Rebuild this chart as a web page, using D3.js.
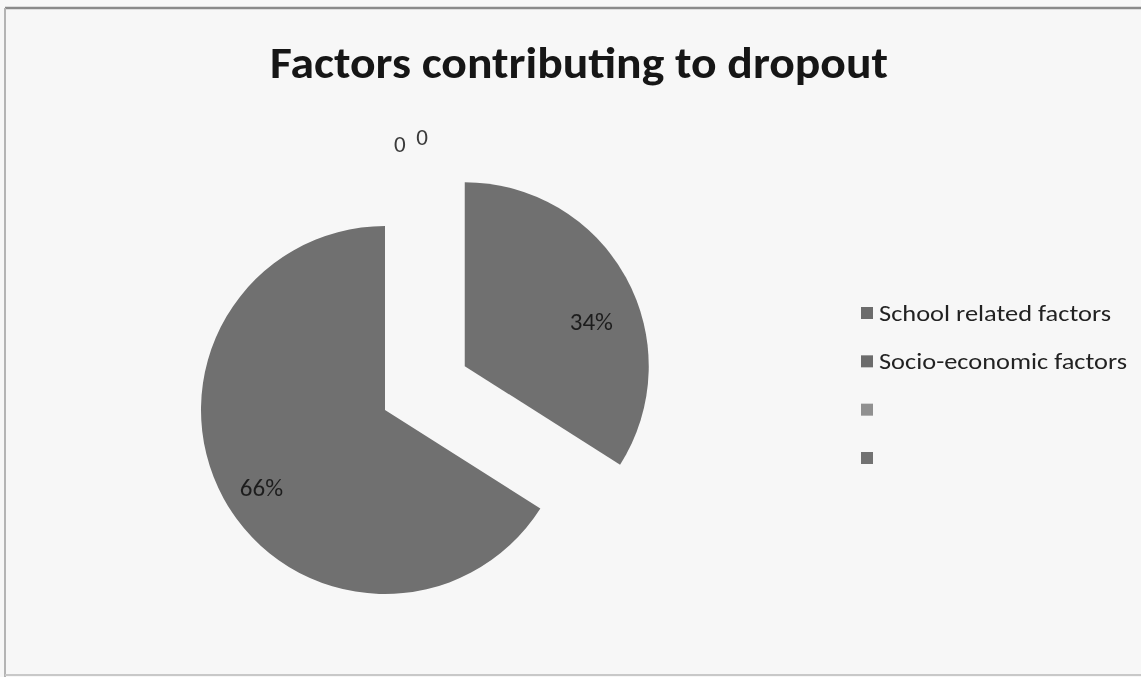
<!DOCTYPE html>
<html>
<head>
<meta charset="utf-8">
<script src="https://cdn.jsdelivr.net/npm/d3@7"></script>
<style>
  html, body { margin: 0; padding: 0; background: #f7f7f7; }
  svg { display: block; }
</style>
</head>
<body>
<svg id="chart" width="1141" height="677"></svg>
<script>
// ---- data ----
const title = "Factors contributing to dropout";
const categories = ["School related factors", "Socio-economic factors", "", ""];
const values = [34, 66, 0, 0];
const valueLabels = ["34%", "66%", "0", "0"];

// ---- styles / layout ----
const W = 1141, H = 677;
const sliceColors = ["#707070", "#707070", "#8c8c8c", "#747474"];
const legendColors = ["#6c6c6c", "#6c6c6c", "#909090", "#727272"];
const pie = { cx: 385, cy: 410, r: 184, explode: [91, 0, 0, 0] };
// label placement: angle shift (deg) from slice bisector and radius fraction
const labelShift = [9.3, -3, 3.2, 7.7];
const labelFrac = [0.73, 0.79, 1.45, 1.50];
const labelSize = [25, 25, 23, 23];
const FONT = "Carlito, Calibri, Lato, 'Open Sans', sans-serif";

const svg = d3.select("#chart");

// paper background
svg.append("rect").attr("width", W).attr("height", H).attr("fill", "#f7f7f7");

const defs = svg.append("defs");
defs.append("filter").attr("id", "edge")
  .append("feGaussianBlur").attr("stdDeviation", 0.5);
defs.append("filter").attr("id", "ink")
  .append("feGaussianBlur").attr("stdDeviation", 0.35);

// frame
svg.append("line").attr("x1", 5).attr("x2", W).attr("y1", 8).attr("y2", 8)
  .attr("stroke", "#8a8a8a").attr("stroke-width", 2.5);
svg.append("line").attr("x1", 5).attr("x2", 5).attr("y1", 8).attr("y2", H)
  .attr("stroke", "#b4b4b4").attr("stroke-width", 2);
svg.append("line").attr("x1", 5).attr("x2", W).attr("y1", 675).attr("y2", 675)
  .attr("stroke", "#c8c8c8").attr("stroke-width", 2);

// title
svg.append("text")
  .attr("x", 579).attr("y", 78)
  .attr("text-anchor", "middle")
  .attr("textLength", 618).attr("lengthAdjust", "spacingAndGlyphs")
  .attr("font-family", FONT)
  .attr("font-weight", "bold")
  .attr("font-size", 44)
  .attr("fill", "#141414")
  .attr("filter", "url(#ink)")
  .text(title);

// pie
const pieGen = d3.pie().sort(null).value(d => d);
const arcs = pieGen(values);
const arcGen = d3.arc().innerRadius(0).outerRadius(pie.r);
const toRad = Math.PI / 180;
const offset = (a, dist) => [Math.sin(a) * dist, -Math.cos(a) * dist];

const g = svg.append("g").attr("transform", `translate(${pie.cx},${pie.cy})`);
const slices = g.selectAll("g.slice").data(arcs).join("g")
  .attr("class", "slice")
  .attr("transform", (d, i) => {
    const [dx, dy] = offset((d.startAngle + d.endAngle) / 2, pie.explode[i]);
    return `translate(${dx},${dy})`;
  });

slices.append("path")
  .attr("d", d => (d.endAngle - d.startAngle > 0 ? arcGen(d) : null))
  .attr("fill", (d, i) => sliceColors[i])
  .attr("filter", "url(#edge)");

slices.append("text")
  .attr("transform", (d, i) => {
    const a = (d.startAngle + d.endAngle) / 2 + labelShift[i] * toRad;
    const [x, y] = offset(a, labelFrac[i] * pie.r);
    return `translate(${x},${y})`;
  })
  .attr("text-anchor", "middle")
  .attr("dy", "0.36em")
  .attr("font-family", FONT)
  .attr("font-size", (d, i) => labelSize[i])
  .attr("fill", (d, i) => (i < 2 ? "#1e1e1e" : "#3a3a3a"))
  .attr("filter", "url(#ink)")
  .text((d, i) => valueLabels[i]);

// legend
const legendY = d3.scalePoint().domain(d3.range(categories.length)).range([313, 458]);
const legend = svg.append("g").selectAll("g").data(categories).join("g")
  .attr("transform", (d, i) => `translate(861,${legendY(i)})`);
legend.append("rect")
  .attr("x", 0).attr("y", -6).attr("width", 12).attr("height", 12)
  .attr("fill", (d, i) => legendColors[i]);
const legendLen = [232, 248];
legend.append("text")
  .attr("x", 18).attr("y", 0).attr("dy", "0.36em")
  .attr("font-family", FONT)
  .attr("font-size", 22)
  .attr("fill", "#222")
  .attr("filter", "url(#ink)")
  .each(function (d, i) {
    if (d) d3.select(this).attr("textLength", legendLen[i]).attr("lengthAdjust", "spacingAndGlyphs");
  })
  .text(d => d);
</script>
</body>
</html>
